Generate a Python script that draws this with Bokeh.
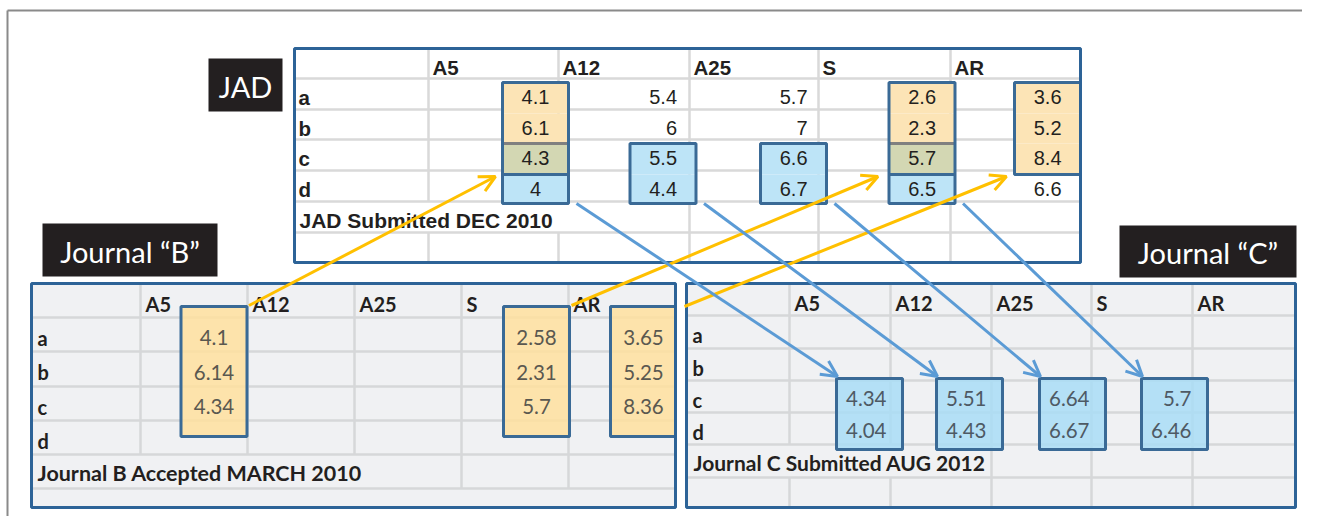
from bokeh.plotting import figure
from bokeh.models import Range1d, Arrow, OpenHead, ColumnDataSource
from bokeh.core.properties import value
from bokeh.embed import file_html
from bokeh.resources import INLINE

# ---------------- data ----------------
rows = ["a", "b", "c", "d"]
cols = ["A5", "A12", "A25", "S", "AR"]

jad_A5 = [4.1, 6.1, 4.3, 4]
jad_A12 = [5.4, 6, 5.5, 4.4]
jad_A25 = [5.7, 7, 6.6, 6.7]
jad_S = [2.6, 2.3, 5.7, 6.5]
jad_AR = [3.6, 5.2, 8.4, 6.6]

b_A5 = [4.1, 6.14, 4.34]
b_S = [2.58, 2.31, 5.7]
b_AR = [3.65, 5.25, 8.36]

c_A5 = [4.34, 4.04]
c_A12 = [5.51, 4.43]
c_A25 = [6.64, 6.67]
c_S = [5.7, 6.46]

captions = ["JAD Submitted DEC 2010", "Journal B Accepted MARCH 2010", "Journal C Submitted AUG 2012"]
labels = ["JAD", "Journal \u201cB\u201d", "Journal \u201cC\u201d"]

# ---------------- style ----------------
GRID = "#D9D9D9"
GRID_BC = "#D6D7D9"
BG_BC = "#F0F1F3"
BORDER = "#2D6397"
BOX_LINE = "#3A6A96"
ORANGE = "#FCE4B6"
OLIVE = "#D3D7B3"
BLUE = "#BDE4F7"
ORANGE_B = "#FFE09E"
BLUE_C = "#A9DDF6"
YELLOW = "#FFC000"
ABLUE = "#5B9BD5"
LABEL_BG = "#231F20"
ARIAL = value("Liberation Sans")
CAL = value("Lato")

fmt = lambda v: f"{v:g}"

p = figure(width=1302, height=516, x_range=Range1d(0, 1302), y_range=Range1d(516, 0),
           output_backend="svg", toolbar_location=None, min_border=0,
           x_axis_location=None, y_axis_location=None)
p.grid.visible = False
p.outline_line_color = None
p.background_fill_color = "white"
p.border_fill_color = "white"

# outer frame
p.segment(x0=[7, 7], y0=[10, 10], x1=[1310, 7], y1=[10, 530], line_color="#8A8A8A", line_width=2)


def draw_grid(xe, ye, bg, gcol, cap_span, empty_v):
    p.quad(left=xe[0], right=xe[-1], top=ye[0], bottom=ye[-1], fill_color=bg, line_color=None)
    hy = ye[1:-1]
    p.segment(x0=[xe[0]] * len(hy), x1=[xe[-1]] * len(hy), y0=hy, y1=hy, line_color=gcol, line_width=2.5)
    x0, y0, x1, y1 = [], [], [], []
    for j in range(1, len(xe) - 1):
        for r in range(len(ye) - 1):
            if r == 5 and j <= cap_span:
                continue
            if r == 6 and not empty_v:
                continue
            x0.append(xe[j]); x1.append(xe[j]); y0.append(ye[r]); y1.append(ye[r + 1])
    p.segment(x0=x0, y0=y0, x1=x1, y1=y1, line_color=gcol, line_width=2.5)


def draw_border(xe, ye):
    p.quad(left=xe[0], right=xe[-1], top=ye[0], bottom=ye[-1], fill_color=None,
           line_color=BORDER, line_width=3)


def headers(xe, ye, dx, dy, font, size, lab_x):
    hx = [xe[j + 1] + dx for j in range(len(cols))]
    hy = (ye[0] + ye[1]) / 2 + dy
    p.text(x=hx, y=[hy] * len(cols), text=cols, text_font=font, text_font_size=size,
           text_font_style="bold", text_baseline="middle", text_align="left", text_color="#231F20")
    ry = [(ye[r + 1] + ye[r + 2]) / 2 + dy for r in range(4)]
    p.text(x=[lab_x] * 4, y=ry, text=rows, text_font=font, text_font_size=size,
           text_font_style="bold", text_baseline="middle", text_align="left", text_color="#231F20")


# ================= JAD table =================
jx = [294, 428, 558, 689, 818, 950, 1080]
jy = [48, 78, 109, 139, 170, 201, 232, 262]
draw_grid(jx, jy, "white", GRID, 2, True)

jad_vals = [jad_A5, jad_A12, jad_A25, jad_S, jad_AR]
jad_box_cx = [535, 662.5, 793, 921.5, 1047]
jad_box_rows = [(0, 3), (2, 3), (2, 3), (0, 3), (0, 2)]
jad_box_fill = [[ORANGE, ORANGE, OLIVE, BLUE], [BLUE, BLUE], [BLUE, BLUE],
                [ORANGE, ORANGE, OLIVE, BLUE], [ORANGE, ORANGE, ORANGE]]
BW = 66


def jad_seg_top(r):
    return jy[r + 1] + 4


def jad_seg_bot(r):
    return jy[r + 2] + 4 if r < 3 else jy[5] + 2


for c, (r0, r1) in enumerate(jad_box_rows):
    L = jad_box_cx[c] - BW / 2
    R = min(jad_box_cx[c] + BW / 2, jx[-1])
    fills = jad_box_fill[c]
    p.quad(left=[L] * len(fills), right=[R] * len(fills),
           top=[jad_seg_top(r) for r in range(r0, r1 + 1)],
           bottom=[jad_seg_bot(r) for r in range(r0, r1 + 1)],
           fill_color=fills, line_color=None)
    for k in range(1, len(fills)):
        if fills[k] != fills[k - 1]:
            yy = jad_seg_top(r0 + k)
            col = "#808080" if fills[k] == OLIVE else BOX_LINE
            p.segment(x0=[L], x1=[R], y0=[yy], y1=[yy], line_color=col, line_width=3)
    p.quad(left=L, right=R, top=jad_seg_top(r0), bottom=jad_seg_bot(r1),
           fill_color=None, line_color=BOX_LINE, line_width=3)

for c in range(5):
    ty = [(jy[r + 1] + jy[r + 2]) / 2 + 3 for r in range(4)]
    if c == 0:
        tx, al = jad_box_cx[c], "center"
    else:
        tx, al = jad_box_cx[c] + 14, "right"
    p.text(x=[tx] * 4, y=ty, text=[fmt(v) for v in jad_vals[c]], text_font=ARIAL,
           text_font_size="20px", text_baseline="middle", text_align=al, text_color="#231F20")

headers(jx, jy, 4, 3.5, ARIAL, "20.5px", 298)
p.text(x=[299], y=[(jy[5] + jy[6]) / 2 + 3.5], text=[captions[0]], text_font=ARIAL,
       text_font_size="21px", text_font_style="bold", text_baseline="middle", text_color="#231F20")
draw_border(jx, jy)

# ================= Journal B =================
bx = [31, 140, 247, 354, 461, 568, 675]
by = [283, 317, 351, 386, 420, 454, 488, 507]
draw_grid(bx, by, BG_BC, GRID_BC, 3, False)
b_vals = [b_A5, b_S, b_AR]
b_box_cx = [213.5, 536, 643]
b_box_top, b_box_bot = 306, 436
for k in range(3):
    L = b_box_cx[k] - 33
    R = min(b_box_cx[k] + 33, bx[-1])
    p.quad(left=L, right=R, top=b_box_top, bottom=b_box_bot, fill_color=ORANGE_B,
           fill_alpha=0.85, line_color=BOX_LINE, line_width=3)
    ty = [(by[r + 1] + by[r + 2]) / 2 + 3 for r in range(3)]
    p.text(x=[b_box_cx[k]] * 3, y=ty, text=[fmt(v) for v in b_vals[k]], text_font=CAL,
           text_font_size="20.5px", text_baseline="middle", text_align="center", text_color="#5A5850")
headers(bx, by, 5, 3, CAL, "20px", 37)
p.text(x=[37], y=[(by[5] + by[6]) / 2 + 1], text=[captions[1]], text_font=CAL,
       text_font_size="21.5px", text_font_style="bold", text_baseline="middle", text_color="#231F20")
draw_border(bx, by)

# ================= Journal C =================
cx = [686, 789, 890, 991, 1091, 1192, 1295]
cy = [283, 315, 348, 380, 412, 444, 477, 507]
draw_grid(cx, cy, BG_BC, GRID_BC, 2, True)
c_vals = [c_A5, c_A12, c_A25, c_S]
c_box_left = [836, 936, 1039, 1141]
c_box_top, c_box_bot = 378, 449
for k in range(4):
    L = c_box_left[k]
    p.quad(left=L, right=L + BW, top=c_box_top, bottom=c_box_bot, fill_color=BLUE_C,
           fill_alpha=0.85, line_color=BOX_LINE, line_width=3)
    ty = [(cy[r + 1] + cy[r + 2]) / 2 + 2 for r in range(2, 4)]
    p.text(x=[L + 50] * 2, y=ty, text=[fmt(v) for v in c_vals[k]], text_font=CAL,
           text_font_size="20.5px", text_baseline="middle", text_align="right", text_color="#4E5964")
headers(cx, cy, 5, 3, CAL, "20px", 692)
p.text(x=[693], y=[(cy[5] + cy[6]) / 2 + 1.5], text=[captions[2]], text_font=CAL,
       text_font_size="21px", text_font_style="bold", text_baseline="middle", text_color="#231F20")
draw_border(cx, cy)

# ================= labels =================
lab_left = [208, 42, 1119]
lab_right = [282, 217, 1296]
lab_top = [58, 223, 225]
lab_bot = [111, 276, 277]
p.quad(left=lab_left, right=lab_right, top=lab_top, bottom=lab_bot, fill_color=LABEL_BG, line_color=None)
p.text(x=[(a + b) / 2 for a, b in zip(lab_left, lab_right)],
       y=[(a + b) / 2 + 1 for a, b in zip(lab_top, lab_bot)], text=labels, text_font=CAL,
       text_font_size="29px", text_baseline="middle", text_align="center", text_color="white")

# ================= arrows =================
# yellow: from Journal B boxes (top-right) to JAD boxes (left, row d)
y_src = ColumnDataSource(dict(
    x0=[b_box_cx[0] + 35, b_box_cx[1] + 35, b_box_cx[2] + 41],
    y0=[b_box_top - 1, b_box_top - 1, b_box_top],
    x1=[jad_box_cx[0] - 40, jad_box_cx[3] - 44, jad_box_cx[4] - 41],
    y1=[jy[4] + 6] * 3))
p.add_layout(Arrow(end=OpenHead(size=16, line_color=YELLOW, line_width=3), source=y_src,
                   x_start="x0", y_start="y0", x_end="x1", y_end="y1",
                   line_color=YELLOW, line_width=3))
# blue: from JAD boxes (bottom-right) to Journal C boxes (top-left)
bl_cols = [0, 1, 2, 3]
b_src = ColumnDataSource(dict(
    x0=[jad_box_cx[c] + BW / 2 + 8 for c in bl_cols],
    y0=[jy[5] + 2] * 4,
    x1=[c_box_left[k] + 1 for k in range(4)],
    y1=[c_box_top - 2] * 4))
p.add_layout(Arrow(end=OpenHead(size=16, line_color=ABLUE, line_width=3), source=b_src,
                   x_start="x0", y_start="y0", x_end="x1", y_end="y1",
                   line_color=ABLUE, line_width=3))

open("out.html", "w").write(file_html(p, INLINE))
